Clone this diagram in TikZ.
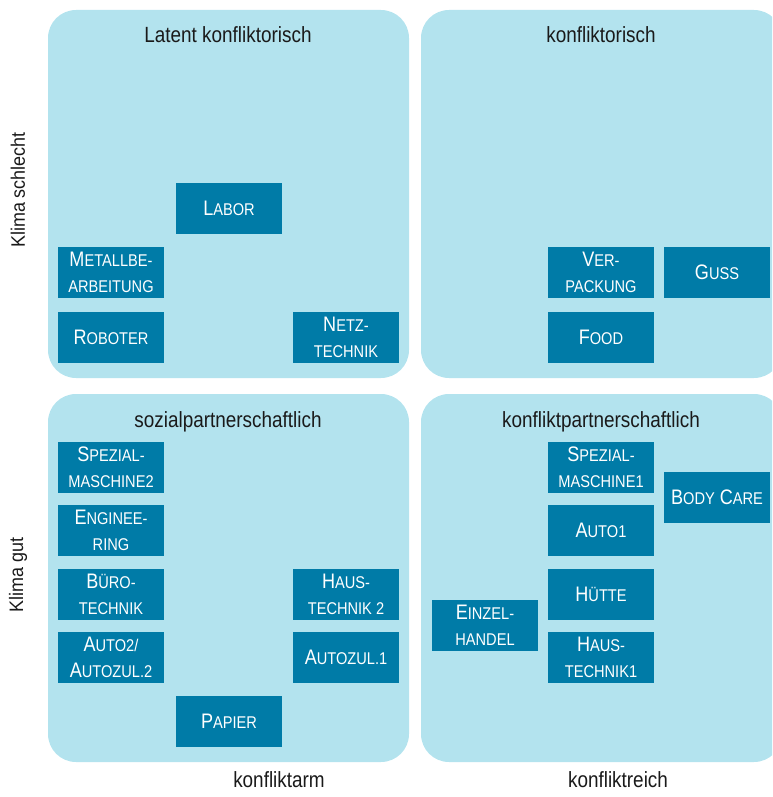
\documentclass[tikz,border=0pt]{standalone}
\usepackage{fontspec}
\setmainfont[FakeStretch=0.92]{Liberation Sans}
\newfontfamily\schmal[FakeStretch=0.86]{Liberation Sans}
\definecolor{lightcyan}{HTML}{B3E3EE}
\definecolor{petrol}{HTML}{007BA7}
\definecolor{titlegray}{HTML}{1A1A1A}
\newcommand{\SC}[2]{#1{\fontsize{17}{26}\selectfont #2}}
\tikzset{
  panel/.style={fill=lightcyan, rounded corners=28pt},
  branche/.style={fill=petrol, text=white, minimum width=106pt,
    minimum height=51pt, inner sep=0pt, align=center,
    font=\schmal\fontsize{21}{26}\selectfont},
  titel/.style={anchor=base, text=titlegray, font=\schmal\fontsize{22}{24}\selectfont},
  achse/.style={rotate=90, text=titlegray, font=\fontsize{19.5}{22}\selectfont}
}

\begin{document}
\begin{tikzpicture}[x=1pt, y=-1pt]
  \clip (0,0) rectangle (772,797);

  % die vier Felder
  \fill[panel] (48,10) rectangle (409,378);
  \fill[panel] (421,10) rectangle (782,378);
  \fill[panel] (48,394) rectangle (409,762);
  \fill[panel] (421,394) rectangle (782,762);

  \node[titel] (latent) at (228,43) {Latent konfliktorisch};
  \node[titel] (konfl) at (601,43) {konfliktorisch};
  \node[titel] (sozial) at (228,427) {sozialpartnerschaftlich};
  \node[titel] (konflpart) at (601,427) {konfliktpartnerschaftlich};

  \node[titel] (arm) at (279,787) {konfliktarm};
  \node[titel] (reich) at (618,787) {konfliktreich};
  \node[achse] (schlecht) at (18,190) {Klima schlecht};
  \node[achse] (gut) at (18,575) {Klima gut};

  % Klima schlecht, konfliktarm
  \node[branche] (labor) at (229,208.5) {\SC{L}{ABOR}};
  \node[branche] (metall) at (111,272.5) {\SC{M}{ETALLBE-}\\\SC{}{ARBEITUNG}};
  \node[branche] (roboter) at (111,337.5) {\SC{R}{OBOTER}};
  \node[branche] (netz) at (346,337.5) {\SC{N}{ETZ-}\\\SC{}{TECHNIK}};

  % Klima schlecht, konfliktreich
  \node[branche] (verpackung) at (601,272.5) {\SC{V}{ER-}\\\SC{}{PACKUNG}};
  \node[branche] (guss) at (717,272.5) {\SC{G}{USS}};
  \node[branche] (food) at (601,337.5) {\SC{F}{OOD}};

  % Klima gut, konfliktarm
  \node[branche] (spezial2) at (111,467.5) {\SC{S}{PEZIAL-}\\\SC{}{MASCHINE2}};
  \node[branche] (engineering) at (111,530.5) {\SC{E}{NGINEE-}\\\SC{}{RING}};
  \node[branche] (buero) at (111,594.5) {\SC{B}{ÜRO-}\\\SC{}{TECHNIK}};
  \node[branche] (auto2) at (111,657.5) {\SC{A}{UTO2/}\\\SC{A}{UTOZUL.2}};
  \node[branche] (haus2) at (346,594.5) {\SC{H}{AUS-}\\\SC{}{TECHNIK 2}};
  \node[branche] (autozul1) at (346,657.5) {\SC{A}{UTOZUL.1}};
  \node[branche] (papier) at (229,721.5) {\SC{P}{APIER}};

  % Klima gut, konfliktreich
  \node[branche] (spezial1) at (601,467.5) {\SC{S}{PEZIAL-}\\\SC{}{MASCHINE1}};
  \node[branche] (bodycare) at (717,497.5) {\SC{B}{ODY} \SC{C}{ARE}};
  \node[branche] (auto1) at (601,530.5) {\SC{A}{UTO1}};
  \node[branche] (huette) at (601,594.5) {\SC{H}{ÜTTE}};
  \node[branche] (einzel) at (485,625.5) {\SC{E}{INZEL-}\\\SC{}{HANDEL}};
  \node[branche] (haus1) at (601,657.5) {\SC{H}{AUS-}\\\SC{}{TECHNIK1}};
\end{tikzpicture}
\end{document}
